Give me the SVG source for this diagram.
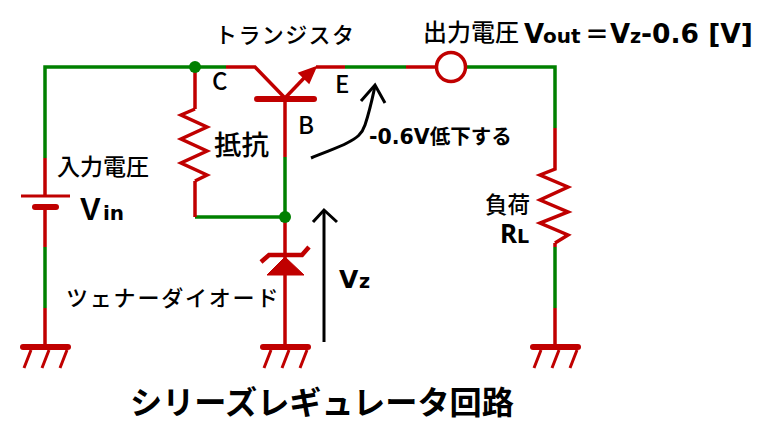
<svg xmlns="http://www.w3.org/2000/svg" width="771" height="425" viewBox="0 0 771 425">
<style>
.g{fill:none;stroke:#008000;stroke-width:3.5}
.r{fill:none;stroke:#c00000;stroke-width:3.5;stroke-linejoin:miter}
.b{fill:none;stroke:#c00000;stroke-width:6;stroke-linecap:round}
.k{fill:none;stroke:#000;stroke-width:3}
text{font-family:"Noto Sans CJK JP","Noto Sans",sans-serif;fill:#000;font-weight:500}
.l{font-family:"DejaVu Sans","Noto Sans CJK JP",sans-serif;font-weight:700}
</style>
<defs>
<g id="gnd">
<path class="b" d="M-22 0H23"/>
<path d="M-14 3L-21 21M4 3L-3 21M22 3L15 21" fill="none" stroke="#c00000" stroke-width="3"/>
</g>
</defs>
<g id="connectors">
<path class="g" d="M45 158V67H226"/>
<path class="r" d="M226 67H255L285 98"/>
<path class="r" d="M316 67H345"/>
<path class="g" d="M345 67H406"/>
<path class="r" d="M406 67H436"/>
<path class="g" d="M466 67H555V128"/>
<path class="r" d="M45 158V196M45 207V247"/>
<path class="g" d="M45 247V308"/>
<path class="r" d="M45 308V345"/>
<path class="r" d="M195 67V109"/>
<path class="g" d="M195 217H285"/>
<path class="r" d="M195 217V181"/>
<path class="r" d="M285 98V157"/>
<path class="g" d="M285 157V217"/>
<path class="r" d="M285 217V345"/>
<path class="r" d="M555 243V247"/>
<path class="g" d="M555 247V308"/>
<path class="r" d="M555 308V345"/>
</g>
<g id="junction-top"><circle cx="195" cy="67" r="6" fill="#008000"/></g>
<g id="junction-mid"><circle cx="285" cy="217" r="6" fill="#008000"/></g>
<g id="battery">
<path d="M21 196H70" fill="none" stroke="#c00000" stroke-width="3"/>
<path class="b" d="M35 207H56"/>
</g>
<g id="transistor">
<path class="b" d="M257 99H314"/>
<path class="r" d="M285 98L306 76"/>
<path d="M316 67L299 73L309 83Z" fill="#c00000" stroke="#c00000" stroke-width="1.5"/>
</g>
<g id="output-terminal"><circle cx="451" cy="67" r="14.5" fill="#fff" stroke="#c00000" stroke-width="3.5"/></g>
<g id="resistor"><path class="r" d="M195 109L181 115L207 127L181 139L207 151L181 163L207 175L195 181"/></g>
<g id="load"><path class="r" d="M555 128V169L540 175L568 187L540 200L568 212L540 223L568 235L555 243"/></g>
<g id="zener">
<path d="M285 257L267 275H304Z" fill="#c00000" stroke="#c00000" stroke-width="1"/>
<path class="r" d="M261 262L269 255H302L309 247" style="stroke-width:4.5"/>
</g>
<g id="ground-1"><use href="#gnd" x="45" y="347"/></g>
<g id="ground-2"><use href="#gnd" x="285" y="347"/></g>
<g id="ground-3"><use href="#gnd" x="555" y="347"/></g>
<g id="arrows">
<path class="k" d="M311 158C325 152 340 147 347 143C357 138 362 134 365 125C370 110 372 100 375 86"/>
<path class="k" d="M361 101L375 85L385 103"/>
<path class="k" d="M324 342V211"/>
<path class="k" d="M313 222L324 210L337 222"/>
</g>
<g id="labels">
<text x="215" y="43" font-size="22" letter-spacing="1.4">トランジスタ</text>
<text x="423" y="41" font-size="24">出力電圧</text>
<text class="l" x="524" y="43" font-size="26">V</text><text class="l" x="543" y="43" font-size="20">out</text>
<text class="l" x="585" y="43" font-size="24">＝</text>
<text class="l" x="610" y="43" font-size="26">V</text><text class="l" x="630" y="43" font-size="19">z</text><text class="l" x="641" y="43" font-size="26.5">-0.6 [V]</text>
<text x="212" y="90" font-size="24">C</text>
<text x="335" y="93" font-size="24">E</text>
<text x="298" y="134" font-size="24">B</text>
<text class="l" x="369" y="144" font-size="20.5">-0.6V低下する</text>
<text x="214" y="155" font-size="27.5">抵抗</text>
<text x="57" y="175" font-size="23">入力電圧</text>
<text x="80" y="220" font-size="31" style="font-family:'Liberation Sans',sans-serif;font-weight:700">V</text><text class="l" x="103" y="220" font-size="20">in</text>
<text x="66" y="306" font-size="22" letter-spacing="1.8">ツェナーダイオード</text>
<text class="l" x="339" y="288" font-size="25">V</text><text class="l" x="359" y="288" font-size="19">z</text>
<text x="485" y="213" font-size="22.5">負荷</text>
<text x="500" y="243" font-size="26" style="font-weight:700;font-family:'Noto Sans',sans-serif">R</text><text class="l" x="517" y="243" font-size="19">L</text>
<text x="130" y="414" font-size="32.2" style="font-weight:700">シリーズレギュレータ回路</text>
</g>
</svg>
